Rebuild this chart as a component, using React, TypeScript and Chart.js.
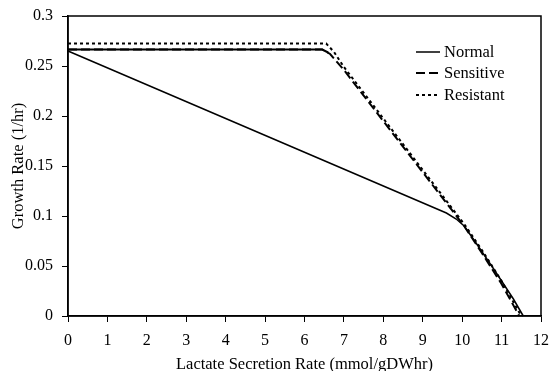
import React, { useEffect, useRef } from "react";
import { Chart, registerables } from "chart.js";

Chart.register(...registerables);

// ---- data ----
const normalX = [0, 9.6, 9.85, 10.05, 10.3, 10.8, 11.3, 11.55];
const normalY = [0.265, 0.103, 0.097, 0.09, 0.076, 0.047, 0.017, 0];

const sensitiveX = [0, 6.45, 6.65, 7.0, 10.05, 10.5, 11.0, 11.45];
const sensitiveY = [0.2665, 0.2665, 0.262, 0.246, 0.09, 0.063, 0.032, 0];

const resistantX = [0, 6.55, 6.75, 7.0, 10.05, 10.5, 11.0, 11.5];
const resistantY = [0.2725, 0.2725, 0.264, 0.249, 0.092, 0.066, 0.035, 0];

// solid plateau drawn over the sensitive plateau in the original
const plateauX = [0, 6.45, 6.6];
const plateauY = [0.2665, 0.2665, 0.2635];

const legendLabels = ["Normal", "Sensitive", "Resistant"];
const xTitle = "Lactate Secretion Rate (mmol/gDWhr)";
const yTitle = "Growth Rate (1/hr)";

const toPts = (xs: number[], ys: number[]) => xs.map((x, i) => ({ x, y: ys[i] }));

const FONT = "'Liberation Serif', 'Times New Roman', serif";

const boxPlugin = {
  id: "box",
  afterDatasetsDraw(chart: any) {
    const { ctx, chartArea } = chart;
    ctx.save();
    ctx.strokeStyle = "#000";
    ctx.lineWidth = 1.5;
    ctx.strokeRect(chartArea.left, chartArea.top, chartArea.right - chartArea.left, chartArea.bottom - chartArea.top);
    ctx.restore();
  },
};

const legendPlugin = {
  id: "customLegend",
  afterDraw(chart: any) {
    const { ctx } = chart;
    const rows = [52, 73, 95];
    ctx.save();
    legendLabels.forEach((label, i) => {
      const ds = chart.data.datasets[i];
      const y = rows[i];
      ctx.beginPath();
      ctx.strokeStyle = "#000";
      ctx.lineWidth = ds.borderWidth;
      ctx.setLineDash(ds.borderDash || []);
      ctx.moveTo(416, y);
      ctx.lineTo(440, y);
      ctx.stroke();
      ctx.setLineDash([]);
      ctx.fillStyle = "#000";
      ctx.font = `16.5px ${FONT}`;
      ctx.textAlign = "left";
      ctx.textBaseline = "middle";
      ctx.fillText(label, 444, y + 1);
    });
    ctx.restore();
  },
};

export default function App() {
  const ref = useRef<HTMLCanvasElement | null>(null);

  useEffect(() => {
    if (!ref.current) return;
    const common = { showLine: true, pointRadius: 0, fill: false, tension: 0, borderColor: "#000", backgroundColor: "#000", clip: false as any };
    const chart = new Chart(ref.current, {
      type: "scatter",
      data: {
        datasets: [
          { ...common, label: "Normal", data: toPts(normalX, normalY), borderWidth: 1.5 },
          { ...common, label: "Sensitive", data: toPts(sensitiveX, sensitiveY), borderWidth: 2, borderDash: [9, 4] },
          { ...common, label: "Resistant", data: toPts(resistantX, resistantY), borderWidth: 2, borderDash: [3, 3] },
          { ...common, label: "", data: toPts(plateauX, plateauY), borderWidth: 2 },
        ],
      },
      options: {
        animation: false,
        responsive: false,
        devicePixelRatio: 1,
        layout: { padding: { top: 16, right: 9, left: 0, bottom: 0 } },
        plugins: { legend: { display: false }, tooltip: { enabled: false } },
        scales: {
          x: {
            type: "linear",
            min: 0,
            max: 12,
            afterFit: (s: any) => { s.height = 55; s.paddingLeft = 0; s.paddingRight = 0; },
            ticks: { stepSize: 1, color: "#000", font: { family: FONT, size: 16 }, padding: 9, maxRotation: 0 },
            grid: { display: true, drawOnChartArea: false, drawTicks: true, tickLength: 6, color: "#000", lineWidth: 1 },
            border: { display: true, color: "#000", width: 1.5 },
            title: { display: true, text: xTitle, color: "#000", font: { family: FONT, size: 16.5, lineHeight: 0.8 }, padding: { top: 0, bottom: 0 } },
          },
          y: {
            type: "linear",
            min: 0,
            max: 0.3,
            afterFit: (s: any) => { s.width = 68; s.paddingTop = 0; s.paddingBottom = 0; },
            ticks: {
              stepSize: 0.05,
              color: "#000",
              font: { family: FONT, size: 16 },
              padding: 9,
              callback: (v: any) => String(Number(Number(v).toFixed(2))),
            },
            grid: { display: true, drawOnChartArea: false, drawTicks: true, tickLength: 6, color: "#000", lineWidth: 1 },
            border: { display: true, color: "#000", width: 1.5 },
            title: { display: true, text: yTitle, color: "#000", font: { family: FONT, size: 16.5, lineHeight: 0.8 }, padding: { top: 12, bottom: 0 } },
          },
        },
      },
      plugins: [boxPlugin, legendPlugin],
    });
    return () => chart.destroy();
  }, []);

  return (
    <div style={{ position: "absolute", left: 0, top: 0, width: 550, height: 371, background: "#fff" }}>
      <canvas ref={ref} width={550} height={371} />
    </div>
  );
}
